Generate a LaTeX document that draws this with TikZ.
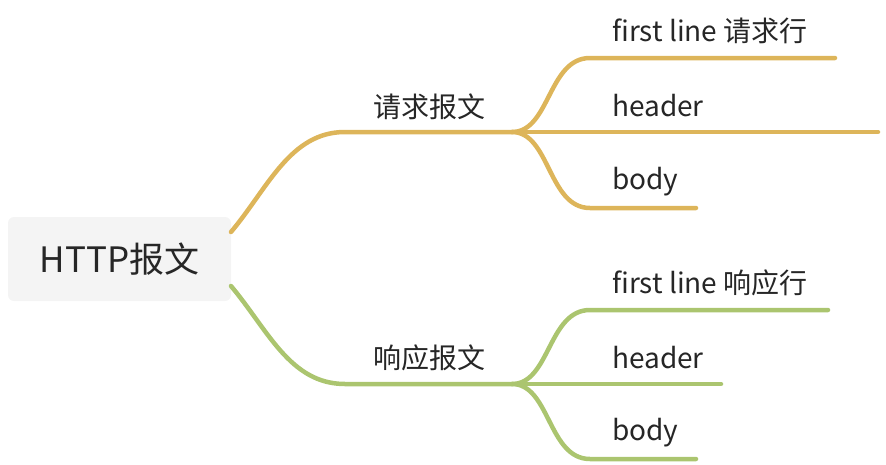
\documentclass[tikz,border=0pt]{standalone}
\usepackage{fontspec}
\setmainfont{Noto Sans CJK SC}
\definecolor{reqcol}{HTML}{DDB55A}
\definecolor{rescol}{HTML}{ABC56F}
\definecolor{rootfill}{HTML}{F4F4F4}
\definecolor{txtcol}{HTML}{262626}
\tikzset{
  rootbox/.style={fill=rootfill,rounded corners=6pt,minimum width=223pt,minimum height=84pt,
                  text=txtcol,font=\fontsize{35}{40}\selectfont},
  branchtext/.style={inner sep=0pt,text=txtcol,font=\fontsize{28}{32}\selectfont},
  leaftext/.style={inner sep=0pt,anchor=west,text=txtcol,font=\fontsize{28}{32}\selectfont},
  reqline/.style={draw=reqcol,line width=4.5pt,line cap=round},
  resline/.style={draw=rescol,line width=4.5pt,line cap=round}
}
\begin{document}
\begin{tikzpicture}[x=1pt,y=-1pt]
   \useasboundingbox (0,0) rectangle (886,464);
   \node[rootbox] (root) at (119.5,259) {HTTP报文};
   % request side
   \coordinate (reqA) at (231,232);
   \coordinate (reqB) at (345,132);
   \coordinate (reqfork) at (512,132);
   \node[branchtext] (req) at (429,107) {请求报文};
   \node[leaftext] (req1) at (612,31) {first line 请求行};
   \node[leaftext] (req2) at (612,106) {header};
   \node[leaftext] (req3) at (612,182) {body};
   \coordinate (req1a) at (590,58);  \coordinate (req1b) at (835,58);
   \coordinate (req2b) at (878,132);
   \coordinate (req3a) at (590,208); \coordinate (req3b) at (696,208);
   \draw[reqline] (reqA) .. controls (268,188) and (290,132) .. (reqB) -- (reqfork);
   \draw[reqline] (reqfork) .. controls (550,132) and (548,58) .. (req1a) -- (req1b);
   \draw[reqline] (reqfork) -- (req2b);
   \draw[reqline] (reqfork) .. controls (550,132) and (548,208) .. (req3a) -- (req3b);
   % response side
   \coordinate (resA) at (231,286);
   \coordinate (resB) at (345,384);
   \coordinate (resfork) at (512,384);
   \node[branchtext] (res) at (429,358) {响应报文};
   \node[leaftext] (res1) at (612,283) {first line 响应行};
   \node[leaftext] (res2) at (612,358) {header};
   \node[leaftext] (res3) at (612,433) {body};
   \coordinate (res1a) at (590,310); \coordinate (res1b) at (828,310);
   \coordinate (res2b) at (721,384);
   \coordinate (res3a) at (590,459); \coordinate (res3b) at (696,459);
   \draw[resline] (resA) .. controls (268,330) and (290,384) .. (resB) -- (resfork);
   \draw[resline] (resfork) .. controls (550,384) and (548,310) .. (res1a) -- (res1b);
   \draw[resline] (resfork) -- (res2b);
   \draw[resline] (resfork) .. controls (550,384) and (548,459) .. (res3a) -- (res3b);
\end{tikzpicture}
\end{document}
